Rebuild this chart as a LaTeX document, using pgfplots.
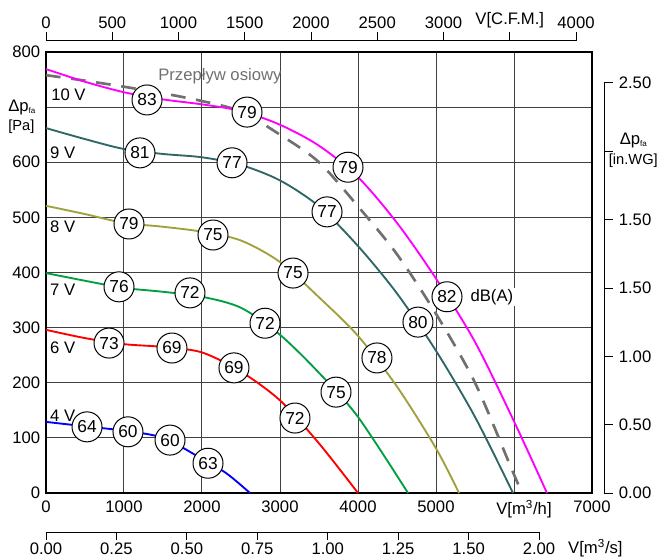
\documentclass[border=0pt]{standalone}
\usepackage{pgfplots}
\pgfplotsset{compat=1.18}
\usepackage{fontspec}
\setmainfont{Liberation Sans}
\definecolor{cMag}{HTML}{FF00FF}
\definecolor{cTeal}{HTML}{2F6666}
\definecolor{cOlive}{HTML}{A0A03C}
\definecolor{cGreen}{HTML}{00A040}
\definecolor{cRed}{HTML}{FF0000}
\definecolor{cBlue}{HTML}{0000FF}
\definecolor{cDash}{HTML}{707070}
\definecolor{cGrid}{HTML}{404040}
\newcommand{\fa}{\raisebox{-0.3ex}{\fontsize{6}{6}\selectfont fa}}
\pgfplotsset{
  circ/.style={draw=none, mark=none, nodes near coords, point meta=explicit symbolic,
    every node near coord/.append style={anchor=center, circle, draw=black, line width=0.75pt,
      fill=white, minimum size=22.5pt, inner sep=0pt, font=\fontsize{13}{13}\selectfont, text=black}},
  curve/.style={line width=1.4pt, smooth, mark=none},
  sec/.style={at={(0,0)}, anchor=south west, scale only axis,
    axis line style={-, line width=0.75pt, black}, tick align=outside,
    tick style={line width=0.75pt, black}, /pgf/number format/assume math mode=true}
}
\begin{document}
\fontsize{12.5}{15}\selectfont
\begin{tikzpicture}
% top CFM axis
\begin{axis}[sec, width=397.5pt, height=339pt,
  xmin=0, xmax=4000, ymin=0, ymax=1, axis x line*=top, axis y line=none,
  xtick={0,500,...,4000}, xticklabels={0,500,1000,1500,2000,2500,3000,V[C.F.M.],4000},
  xticklabel style={yshift=-1.5pt},
  major tick length=6.75pt]
\end{axis}
% bottom m3/s axis
\begin{axis}[sec, at={(0,-29.25pt)}, width=369.75pt, height=10pt,
  xmin=0, xmax=1.75, ymin=0, ymax=1, axis x line*=bottom, axis y line=none,
  xtick={0,0.25,...,1.75}, xticklabels={0.00,0.25,0.50,0.75,1.00,1.25,1.50,2.00},
  xticklabel style={yshift=1.8pt},
  major tick length=5.75pt]
\end{axis}
% right in.WG axis
\begin{axis}[sec, width=418.5pt, height=307.5pt,
  xmin=0, xmax=1, ymin=0, ymax=3, axis y line*=right, axis x line=none,
  ytick={0,0.5,...,3}, yticklabels={0.00,0.50,1.00,1.50,1.50,,2.50},
  yticklabel style={anchor=west},
  major tick length=6.75pt]
\end{axis}
% main axis
\begin{axis}[at={(0,0)}, anchor=south west, scale only axis, width=409.5pt, height=330.75pt,
  xmin=0, xmax=7000, ymin=0, ymax=800, clip=false,
  xtick={0,1000,...,7000}, xticklabels={0,1000,2000,3000,4000,5000,,7000},
  ytick={0,100,...,800}, yticklabels={0,100,200,300,400,500,600,,800},
  /pgf/number format/assume math mode=true,
  grid=major, major grid style={cGrid, line width=0.75pt},
  major tick length=0pt, axis line style={line width=2.2pt, black},
  xticklabel style={yshift=-1.5pt}]
% curves
\addplot[curve, cBlue] coordinates {(0,129)(500,121)(1000,113)(1500,100)(2000,62)(2320,35)(2615,0)};
\addplot[curve, cRed] coordinates {(0,296)(500,281)(1000,270)(1500,265)(2000,255)(2500,220)(3000,168)(3500,90)(4000,0)};
\addplot[curve, cGreen] coordinates {(0,399)(500,385)(1000,372)(1500,365)(2000,356)(2500,336)(3000,287)(3500,218)(4000,138)(4641,0)};
\addplot[curve, cOlive] coordinates {(0,521)(500,506)(1000,490)(1500,483)(2000,474)(2500,458)(3000,419)(3500,355)(4000,285)(4500,193)(5000,81)(5295,0)};
\addplot[curve, cTeal] coordinates {(0,662)(500,642)(1000,624)(1500,615)(2000,609)(2500,595)(3000,567)(3500,520)(4000,448)(4500,362)(5000,258)(5500,138)(5987,0)};
\addplot[line width=2pt, smooth, mark=none, cDash, dash pattern=on 11pt off 8pt] coordinates {(0,758)(500,748)(1000,737)(1500,725)(2000,711)(2500,692)(3000,650)(3500,600)(4000,520)(4500,433)(5000,325)(5500,200)(5974,42)(6103,0)};
\addplot[curve, cMag] coordinates {(0,769)(500,746)(1000,727)(1500,714)(2000,705)(2500,693)(3000,668)(3500,630)(4000,573)(4500,490)(5000,389)(5500,274)(6000,130)(6423,0)};
% circles
\addplot[circ] coordinates {(526,120)[64] (1051,111)[60] (1590,96)[60] (2077,54)[63]};
\addplot[circ] coordinates {(808,272)[73] (1615,263)[69] (2410,227)[69] (3192,136)[72]};
\addplot[circ] coordinates {(936,374)[76] (1846,363)[72] (2808,308)[72] (3718,183)[75]};
\addplot[circ] coordinates {(1064,488)[79] (2141,468)[75] (3167,399)[75] (4243,245)[78]};
\addplot[circ] coordinates {(1205,617)[81] (2385,599)[77] (3603,510)[77] (4769,310)[80]};
\addplot[circ] coordinates {(1295,713)[83] (2577,691)[79] (3872,591)[79] (5141,356)[82]};
% texts
\node[anchor=west, inner sep=0pt] at (axis cs:64,722) {10 V};
\node[anchor=west, inner sep=0pt] at (axis cs:51,617) {9 V};
\node[anchor=west, inner sep=0pt] at (axis cs:51,483) {8 V};
\node[anchor=west, inner sep=0pt] at (axis cs:51,368) {7 V};
\node[anchor=west, inner sep=0pt] at (axis cs:51,263) {6 V};
\node[anchor=west, inner sep=0pt] at (axis cs:51,141) {4 V};
\node[anchor=west, inner sep=0pt, text=cDash] at (axis cs:1436,756) {Przepływ osiowy};
\node[anchor=west, inner sep=1pt, fill=white] at (axis cs:5423,356) {dB(A)};
\node[anchor=west, inner sep=0pt] at (axis cs:-487,700) {Δp\fa};
\node[anchor=west, inner sep=0pt, font=\fontsize{11}{11}\selectfont] at (axis cs:-487,664) {[Pa]};
\node[anchor=center, inner sep=0pt] at (axis cs:7530,640) {Δp\fa};
\node[anchor=center, inner sep=0pt, font=\fontsize{11}{11}\selectfont] at (axis cs:7530,602) {[in.WG]};
\node[anchor=north, yshift=-1.5pt] at (axis cs:6128,0) {V[m\textsuperscript{3}/h]};
\node[anchor=west, inner sep=0pt] at (axis cs:6692,-100) {V[m\textsuperscript{3}/s]};
\end{axis}
\pgfresetboundingbox
\path[use as bounding box] (-34.5pt,-48pt) rectangle (459.75pt,369.75pt);
\end{tikzpicture}
\end{document}
